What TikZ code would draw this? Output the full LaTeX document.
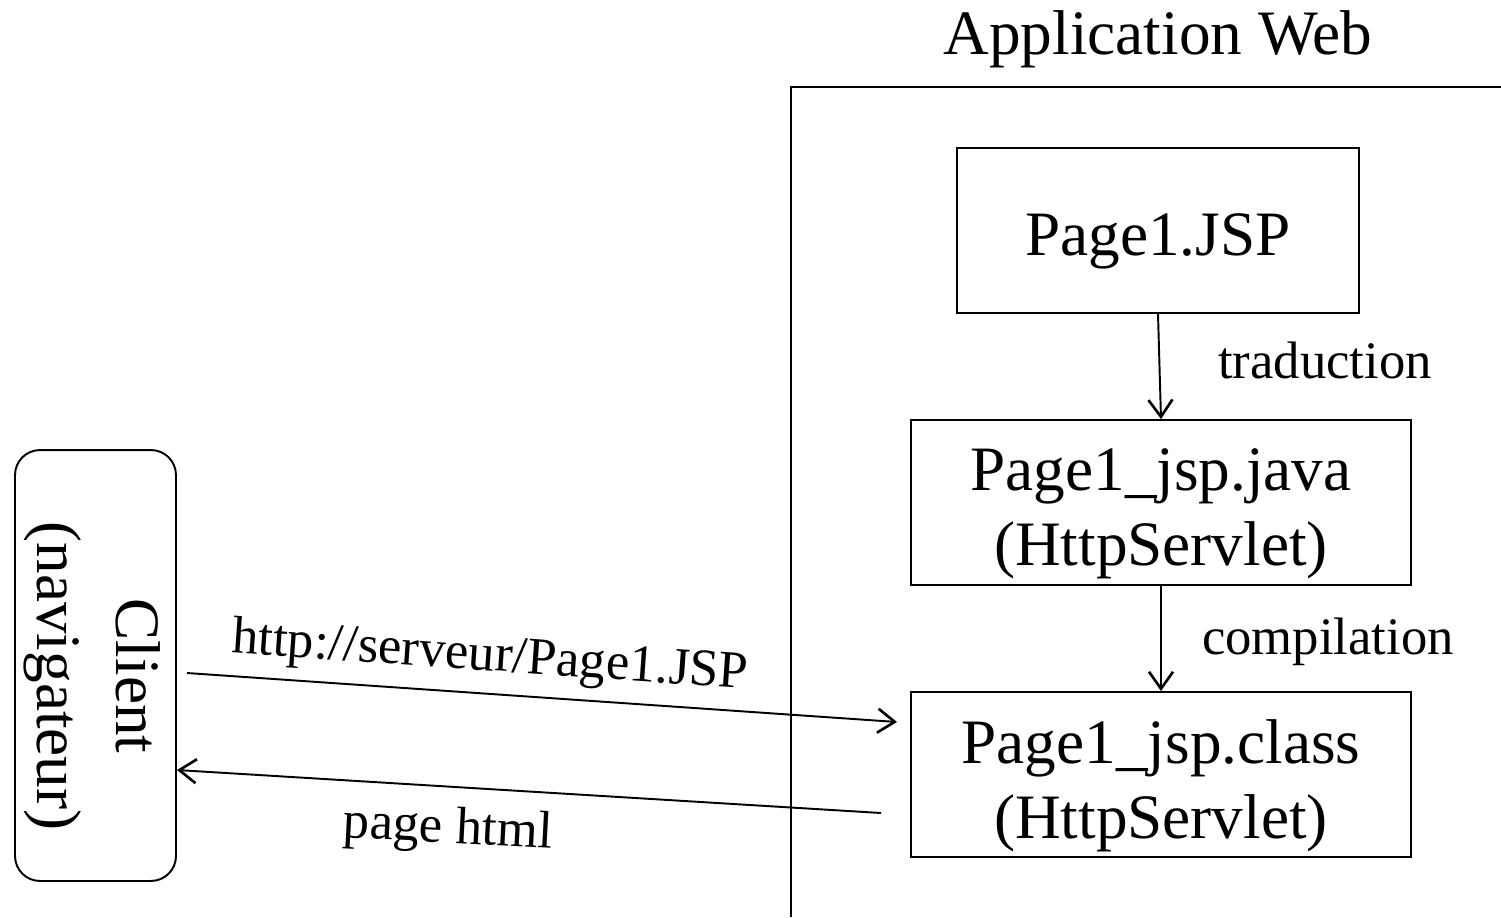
\documentclass[tikz,border=0pt]{standalone}
\usepackage{fontspec}
\setmainfont{Liberation Serif}
\usetikzlibrary{arrows.meta}
\begin{document}
\begin{tikzpicture}[x=0.02cm,y=-0.02cm,
  line width=1.1pt,
  box/.style={draw, line width=1.1pt, inner sep=0pt, minimum height=3.3cm},
  boxtxt/.style={inner sep=0pt, align=center, font=\fontsize{36}{42.5}\selectfont},
  lbl/.style={inner sep=0pt, font=\fontsize{30}{36}\selectfont},
  arr/.style={-{Straight Barb[length=0.34cm,width=0.48cm,line width=1.5pt]}, line width=1.1pt}]
\useasboundingbox (0,0) rectangle (1501,917);
% web application frame
\draw (791,917) -- (791,87) -- (1501,87);
\node[boxtxt] (title) at (1158,39) {Application Web};
% boxes
\node[box, minimum width=8.04cm] (jsp) at (1158,230.5) {};
\node[box, minimum width=10cm] (java) at (1161,502.5) {};
\node[box, minimum width=10cm] (cls) at (1161,774.5) {};
\node[boxtxt] (jsptxt) at ([yshift=-0.22cm]jsp.center) {Page1.JSP};
\node[boxtxt] (javatxt) at ([yshift=-0.22cm]java.center) {Page1\_jsp.java\\(HttpServlet)};
\node[boxtxt] (clstxt) at ([yshift=-0.22cm]cls.center) {Page1\_jsp.class\\(HttpServlet)};
\node[draw, rounded corners=0.5cm, minimum width=3.22cm, minimum height=8.62cm, inner sep=0pt] (client) at (95.5,665.5) {};
\node[rotate=-90, align=center, inner sep=0pt, font=\fontsize{36}{45}\selectfont] (clienttxt) at (92,676) {Client\\(navigateur)};
% vertical arrows
\draw[arr] (jsp.south) -- (java.north);
\draw[arr] (java.south) -- (cls.north);
\node[lbl] (trad) at (1325,360) {traduction};
\node[lbl] (comp) at (1328,642) {compilation};
% request / response
\coordinate (reqA) at (187,673);
\coordinate (reqB) at (897,722);
\coordinate (resA) at (881,813);
\coordinate (resB) at (177,770);
\draw[arr] (reqA) -- (reqB);
\draw[arr] (resA) -- (resB);
\node[lbl, rotate=-4] (url) at (490,658) {http://serveur/Page1.JSP};
\node[lbl, rotate=-3] (html) at (448,830) {page html};
\end{tikzpicture}
\end{document}
